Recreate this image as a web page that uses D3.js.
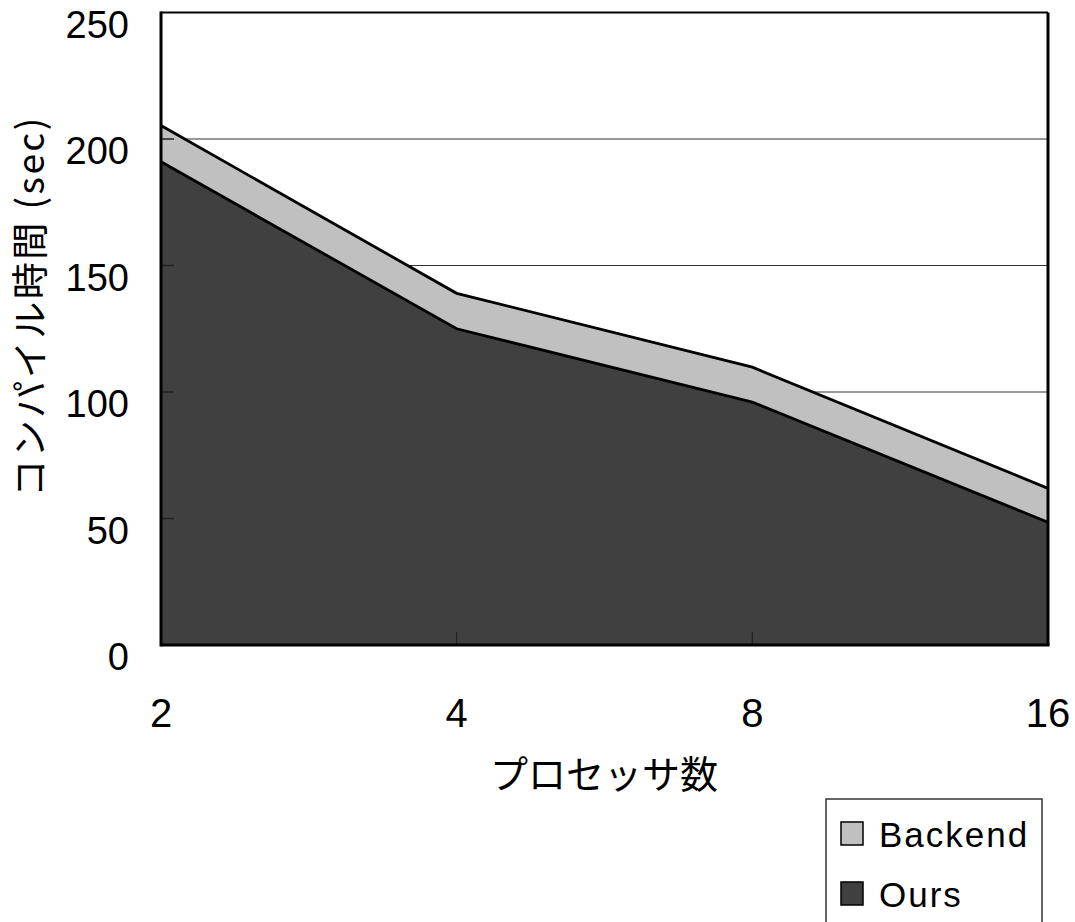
<!DOCTYPE html>
<html>
<head>
<meta charset="utf-8">
<script src="https://cdn.jsdelivr.net/npm/d3@7"></script>
<style>
  html, body { margin: 0; padding: 0; background: #fff; }
  svg { display: block; }
</style>
</head>
<body>
<svg id="chart" width="1075" height="922"></svg>
<script>
// Compile time per processor count, stacked: our part + backend part
const processors = ["2", "4", "8", "16"];
const oursTime = [191, 125, 96, 48.5];
const backendTime = [14.3, 14, 13.8, 13.4];
const yTicks = [0, 50, 100, 150, 200, 250];
const seriesNames = ["Ours", "Backend"];
const seriesColors = ["#404040", "#c0c0c0"];

(function () {
const svg = d3.select("#chart");
const plotL = 161, plotR = 1048, plotT = 12.5, plotB = 645;

const x = d3.scalePoint().domain(processors).range([plotL, plotR]);
const y = d3.scaleLinear().domain([0, 250]).range([plotB, plotT]);

const rows = processors.map((p, i) => ({ p, Ours: oursTime[i], Backend: backendTime[i] }));
const stacked = d3.stack().keys(seriesNames)(rows);

// horizontal gridlines
svg.append("g").selectAll("line")
  .data(yTicks.filter(v => v > 0 && v < 250))
  .join("line")
  .attr("x1", plotL).attr("x2", plotR)
  .attr("y1", d => y(d)).attr("y2", d => y(d))
  .attr("stroke", "#333").attr("stroke-width", 1.2);

// stacked areas
const area = d3.area()
  .x(d => x(d.data.p))
  .y0(d => y(d[0]))
  .y1(d => y(d[1]));
const line = d3.line()
  .x(d => x(d.data.p))
  .y(d => y(d[1]));

svg.append("g").selectAll("path")
  .data(stacked)
  .join("path")
  .attr("d", area)
  .attr("fill", (d, i) => seriesColors[i]);

svg.append("g").selectAll("path")
  .data(stacked)
  .join("path")
  .attr("d", line)
  .attr("fill", "none")
  .attr("stroke", "#000")
  .attr("stroke-width", 2.8);

// inward tick marks
svg.append("g").selectAll("line")
  .data(yTicks.filter(v => v > 0 && v < 250))
  .join("line")
  .attr("x1", plotL).attr("x2", plotL + 13)
  .attr("y1", d => y(d)).attr("y2", d => y(d))
  .attr("stroke", "#222").attr("stroke-width", 1.5);

svg.append("g").selectAll("line")
  .data(processors.slice(1, -1))
  .join("line")
  .attr("x1", d => x(d)).attr("x2", d => x(d))
  .attr("y1", plotB).attr("y2", plotB - 13)
  .attr("stroke", "#222").attr("stroke-width", 1.2);

// plot frame
svg.append("line").attr("x1", plotL).attr("x2", plotR).attr("y1", plotT).attr("y2", plotT)
  .attr("stroke", "#000").attr("stroke-width", 2);
svg.append("line").attr("x1", plotR).attr("x2", plotR).attr("y1", plotT).attr("y2", plotB)
  .attr("stroke", "#000").attr("stroke-width", 3);
svg.append("line").attr("x1", plotL).attr("x2", plotL).attr("y1", plotT - 1).attr("y2", plotB + 1.5)
  .attr("stroke", "#000").attr("stroke-width", 3);
svg.append("line").attr("x1", plotL).attr("x2", plotR + 1.5).attr("y1", plotB).attr("y2", plotB)
  .attr("stroke", "#000").attr("stroke-width", 3);

// y tick labels
svg.append("g").selectAll("text")
  .data(yTicks)
  .join("text")
  .attr("x", 129)
  .attr("y", d => y(d) + 12)
  .attr("text-anchor", "end")
  .attr("dominant-baseline", "central")
  .attr("font-family", "Liberation Sans, Arial, sans-serif")
  .attr("font-size", 38)
  .text(d => d);

// x tick labels
svg.append("g").selectAll("text")
  .data(processors)
  .join("text")
  .attr("x", d => x(d))
  .attr("y", 727)
  .attr("text-anchor", "middle")
  .attr("font-family", "Liberation Sans Narrow, Liberation Sans, sans-serif")
  .attr("font-size", 40)
  .text(d => d);

// axis titles
svg.append("text")
  .attr("x", 604).attr("y", 788)
  .attr("text-anchor", "middle")
  .attr("font-family", "Noto Sans CJK JP, sans-serif")
  .attr("font-size", 38)
  .text("プロセッサ数");

svg.append("text")
  .attr("transform", "translate(44,306) rotate(-90)")
  .attr("text-anchor", "middle")
  .attr("font-family", "Noto Sans CJK JP, sans-serif")
  .attr("font-size", 37)
  .attr("letter-spacing", 2.5)
  .text("コンパイル時間 (sec)");

// legend
const legend = svg.append("g");
legend.append("rect")
  .attr("x", 826).attr("y", 799).attr("width", 216).attr("height", 160)
  .attr("fill", "#fff").attr("stroke", "#333").attr("stroke-width", 1.5);
const legendItems = [
  { name: "Backend", color: seriesColors[1] },
  { name: "Ours", color: seriesColors[0] }
];
const li = legend.selectAll("g.item")
  .data(legendItems)
  .join("g")
  .attr("class", "item")
  .attr("transform", (d, i) => `translate(0, ${i * 60})`);
li.append("rect")
  .attr("x", 841).attr("y", 822).attr("width", 22).attr("height", 23)
  .attr("fill", d => d.color).attr("stroke", "#000").attr("stroke-width", 1.5);
li.append("text")
  .attr("x", 879).attr("y", 847)
  .attr("font-family", "Liberation Sans, Arial, sans-serif")
  .attr("font-size", 35)
  .attr("letter-spacing", 2)
  .text(d => d.name);
})();
</script>
</body>
</html>
